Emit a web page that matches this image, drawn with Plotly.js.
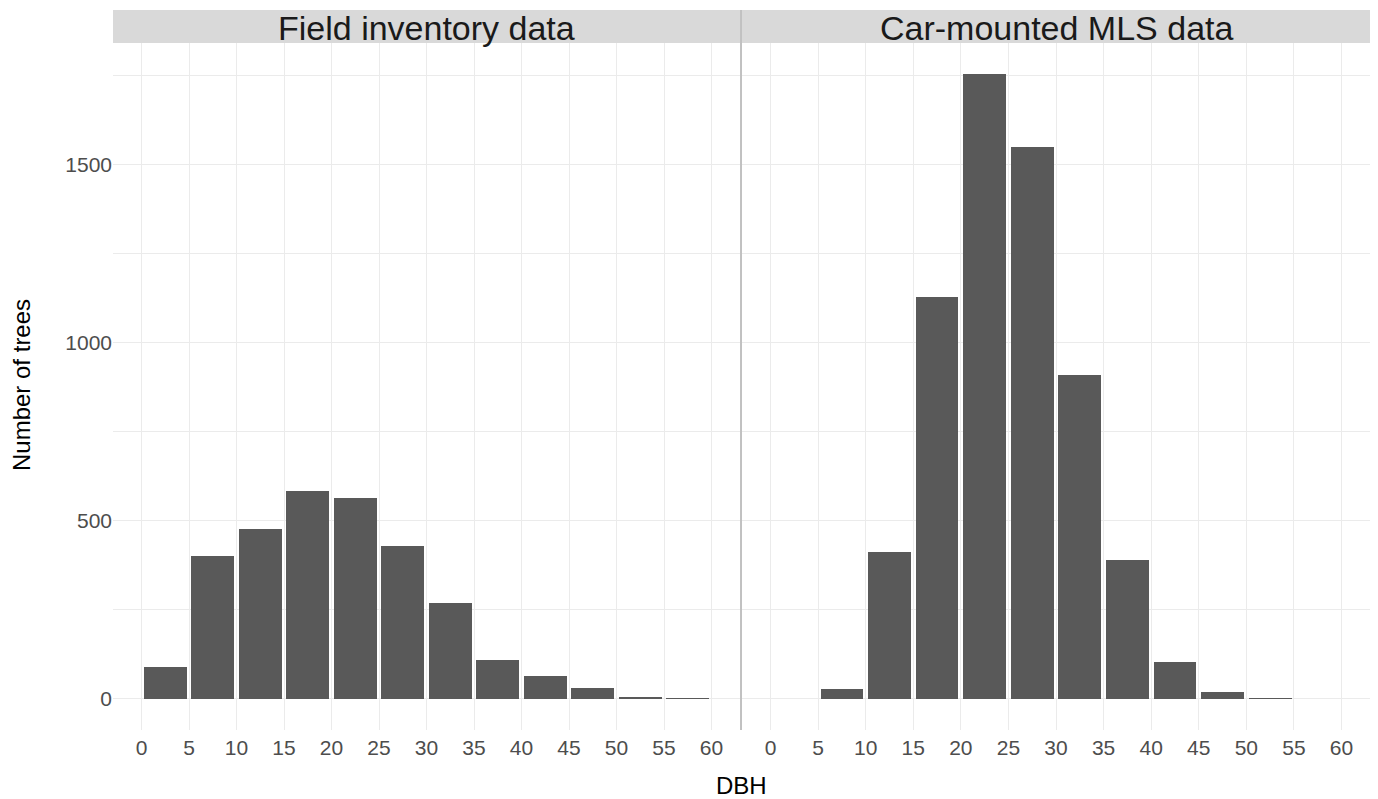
<!DOCTYPE html>
<html>
<head>
<meta charset="utf-8">
<script src="https://cdn.plot.ly/plotly-3.0.1.min.js"></script>
<style>html,body{margin:0;padding:0;background:#fff;}#chart{width:1378px;height:799px;}</style>
</head>
<body>
<div id="chart"></div>
<script>
// DBH bins (cm), lower edges
const binStart = [0, 5, 10, 15, 20, 25, 30, 35, 40, 45, 50, 55];
const binWidth = 5;
// Number of trees per bin
const fieldCounts = [90, 400, 476, 582, 562, 428, 269, 109, 64, 31, 5, 1];
const mlsCounts   = [0, 28, 411, 1128, 1752, 1547, 909, 389, 104, 20, 3, 0];
const panelTitles = ["Field inventory data", "Car-mounted MLS data"];
const xTitle = "DBH";
const yTitle = "Number of trees";

const centers = binStart.map(s => s + binWidth / 2);
const W = 1378, H = 799;
const px = v => v / W;
const py = v => 1 - v / H;

const FONT = "Liberation Sans, Arial, Helvetica, sans-serif";
const barStyle = {color: "#595959", line: {width: 0}};

const traces = [
  {type: "bar", x: centers, y: fieldCounts, width: binWidth * 0.9, marker: barStyle, xaxis: "x", yaxis: "y", hoverinfo: "x+y"},
  {type: "bar", x: centers, y: mlsCounts, width: binWidth * 0.9, marker: barStyle, xaxis: "x2", yaxis: "y2", hoverinfo: "x+y"}
];

const xBase = {
  range: [-3, 63], tick0: 0, dtick: 5, showgrid: true, gridcolor: "#ebebeb", gridwidth: 1,
  zeroline: false, showline: false, ticks: "", ticklabelstandoff: 3,
  tickfont: {family: FONT, size: 21, color: "#4d4d4d"}, fixedrange: true
};
const yBase = {
  range: [-88, 1840], tick0: 0, dtick: 500, showgrid: true, gridcolor: "#ebebeb", gridwidth: 1,
  minor: {dtick: 250, showgrid: true, gridcolor: "#ebebeb", gridwidth: 1, ticks: ""},
  zeroline: false, showline: false, ticks: "",
  tickfont: {family: FONT, size: 21, color: "#4d4d4d"}, fixedrange: true,
  domain: [py(730), py(43)]
};

const layout = {
  width: W, height: H,
  margin: {l: 0, r: 0, t: 0, b: 0},
  paper_bgcolor: "#ffffff", plot_bgcolor: "#ffffff",
  showlegend: false,
  bargap: 0,
  xaxis: Object.assign({}, xBase, {domain: [px(113), px(740)], anchor: "y"}),
  xaxis2: Object.assign({}, xBase, {domain: [px(742), px(1370)], anchor: "y2"}),
  yaxis: Object.assign({}, yBase, {anchor: "x"}),
  yaxis2: Object.assign({}, yBase, {anchor: "x2", matches: "y", showticklabels: false}),
  shapes: [
    {type: "rect", xref: "paper", yref: "paper", x0: px(113), x1: px(740), y0: py(43), y1: py(10), fillcolor: "#d9d9d9", line: {width: 0}, layer: "below"},
    {type: "rect", xref: "paper", yref: "paper", x0: px(742), x1: px(1370), y0: py(43), y1: py(10), fillcolor: "#d9d9d9", line: {width: 0}, layer: "below"},
    {type: "line", xref: "paper", yref: "paper", x0: px(741), x1: px(741), y0: py(730), y1: py(10), line: {color: "#666666", width: 0.8}}
  ],
  annotations: [
    {text: panelTitles[0], xref: "paper", yref: "paper", x: px(426.5), y: py(28), xanchor: "center", yanchor: "middle", showarrow: false, font: {family: FONT, size: 34, color: "#1a1a1a"}},
    {text: panelTitles[1], xref: "paper", yref: "paper", x: px(1056), y: py(28), xanchor: "center", yanchor: "middle", showarrow: false, font: {family: FONT, size: 34, color: "#1a1a1a"}},
    {text: xTitle, xref: "paper", yref: "paper", x: px(741), y: py(785), xanchor: "center", yanchor: "middle", showarrow: false, font: {family: FONT, size: 24, color: "#000000"}},
    {text: yTitle, xref: "paper", yref: "paper", x: px(21), y: py(385), xanchor: "center", yanchor: "middle", textangle: -90, showarrow: false, font: {family: FONT, size: 24, color: "#000000"}}
  ]
};

Plotly.newPlot("chart", traces, layout, {displayModeBar: false, staticPlot: true});
</script>
</body>
</html>
